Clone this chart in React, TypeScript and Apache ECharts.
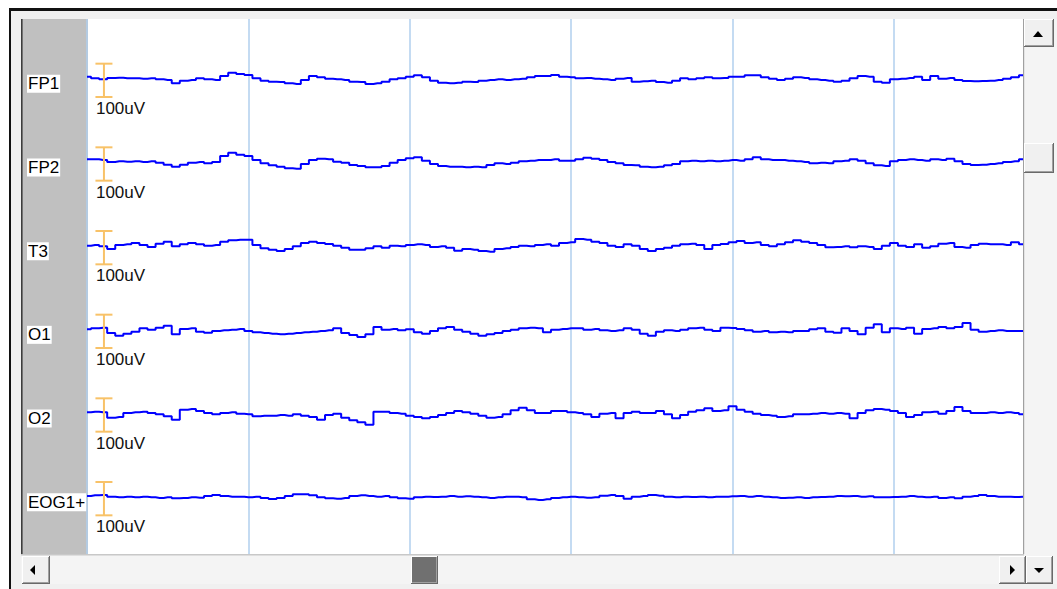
import React, { useEffect, useRef } from "react";
import * as echarts from "echarts";

// ---- data ----
const CHANNELS = ["FP1", "FP2", "T3", "O1", "O2", "EOG1+"];
const SAMPLE_INTERVAL_S = 0.05; // seconds between samples
const WINDOW_S = 5.8; // visible time window
const TIME_GRID_S = 1; // vertical grid every second
const SCALE_BAR_UV = 100;
const SCALE_LABEL = "100uV";

// microvolts, one value per sample
const FP1 = [5,0,-3,1,2,0,0,-1,0,-3, -5,-15,-7,-5,0,-3,-5,7,17,13, 10,0,-7,-10,-11,-15,-17,-5,7,3, -1,-3,-5,-10,-11,-17,-15,-10,-3,0, 5,9,3,-7,-13,-15,-13,-10,-11,-7, -5,-3,-5,-3,-1,3,7,7,10,5, 3,0,1,-1,-3,-5,-1,1,-10,-9, -7,-11,-13,-7,0,-3,0,3,0,1, 5,5,9,9,3,-1,-5,-1,3,1, -3,-5,-7,-10,-7,0,7,5,-10,-13, -3,-1,1,5,-5,7,-1,1,-5,-8, -9,-8,-7,-5,-1,3,9];
const FP2 = [8,8,6,0,2,1,2,0,2,-2, -8,-14,-8,-2,0,-4,0,18,28,22, 18,6,-4,-10,-14,-19,-20,-6,6,10, 8,1,-2,-9,-12,-16,-16,-12,-2,6, 11,14,4,-6,-12,-14,-14,-16,-14,-16, -9,-4,-6,-2,2,4,6,6,8,4, 4,8,13,10,6,0,-4,-9,-10,-14, -16,-14,-10,-6,2,4,2,4,2,4, 6,4,8,14,8,6,6,4,2,0, -4,-2,-4,2,4,8,4,-4,-10,-12, 2,6,8,6,4,8,6,10,2,-6, -9,-8,-6,-4,0,2,8];
const T3 = [0,2,-2,-10,2,4,8,2,-4,6, 12,-2,4,8,4,0,2,12,16,18, 18,2,-8,-12,-16,-10,-2,8,12,8, 5,0,-6,-12,-12,-8,-2,-6,0,-2, 2,4,2,-4,-2,-6,-15,-10,-12,-16, -18,-10,-8,-4,0,-2,2,4,0,8, 10,20,18,12,8,0,-4,4,0,-10, -16,-10,-6,0,4,6,2,-10,2,5, 10,14,8,10,2,-2,4,10,16,12, 8,2,-5,-4,-2,-5,-2,-4,-10,0, 8,0,-4,4,-6,-2,6,8,-4,-6, 2,6,4,4,2,10,4];
const O1 = [0,3,5,-11,-19,-13,-7,3,-1,5, 11,-15,1,3,-7,-10,-5,-3,-1,1, -5,-9,-11,-13,-15,-13,-11,-9,-7,-5, -3,3,-11,-17,-23,-15,7,-1,1,-3, 0,-9,-13,-5,3,7,-1,-7,-13,-19, -15,-11,-5,-1,3,5,3,-9,-1,1, 3,3,-1,1,-3,-5,-3,3,-1,-13, -19,-7,-3,-5,-1,3,5,-1,-5,5, 4,1,-3,-7,-5,-9,-7,-9,-5,-5, 0,3,-7,-10,3,-5,-15,5,15,-9, 3,1,5,-13,1,3,7,3,7,19, -1,-7,-5,-3,-5,-5,-5];
const O2 = [2,4,2,-14,-12,0,2,4,0,-4, -10,-20,10,12,6,0,-4,0,2,-2, -4,-10,-8,-8,-6,-8,-4,-8,-12,-20, -6,-2,-14,-22,-28,-35,4,4,0,-2, -8,-12,-16,-12,-6,0,6,2,-2,-8, -14,-12,-4,8,16,8,0,0,6,6, 2,0,-4,-12,-2,0,-16,0,4,0, 0,6,-4,-16,-6,4,8,14,6,8, 20,10,4,-2,-6,-8,-12,-10,-4,-4, -2,0,-2,0,-2,-16,0,8,12,10, 6,0,-12,-6,2,4,-2,6,18,6, 0,0,2,0,2,0,-4];
const EOG1 = [2,4,5,0,-2,0,-2,0,-2,-4, -2,-5,-4,-2,-3,2,5,2,0,0, -2,0,-4,-7,-4,2,7,7,4,-2, -5,-6,-4,2,4,2,0,2,-2,-5, -6,-2,0,-1,0,2,0,1,0,-2, -4,-2,0,0,-2,-8,-10,-8,-4,-2, 0,-2,-3,-2,3,5,2,-6,0,2, 5,3,0,-2,0,-1,0,-2,0,0, 1,2,0,2,0,-2,-4,-3,-2,-4, -2,-1,0,2,1,2,0,1,-2,-2, -1,0,2,0,-2,0,-4,-2,-5,0, 2,5,2,0,0,-1,0];
const TRACES = [FP1, FP2, T3, O1, O2, EOG1];

// ---- montage layout (uV axis) ----
const Y_MAX_UV = 1605;
const FIRST_BASE_UV = 1427;
const CHANNEL_SPACING_UV = 251;
const SCALE_BAR_T = 0.105;
const baseline = (i: number) => FIRST_BASE_UV - CHANNEL_SPACING_UV * i;

const FONT = '"Liberation Sans", Arial, sans-serif';

function button(x: number, y: number, w: number, h: number, face = "#f0f0f0") {
  return [
    { type: "rect", z: 10, shape: { x, y, width: w, height: h }, style: { fill: "#696969" } },
    { type: "rect", z: 10, shape: { x, y, width: w - 1, height: h - 1 }, style: { fill: "#ffffff" } },
    { type: "rect", z: 10, shape: { x: x + 1, y: y + 1, width: w - 2, height: h - 2 }, style: { fill: "#a0a0a0" } },
    { type: "rect", z: 10, shape: { x: x + 1, y: y + 1, width: w - 3, height: h - 3 }, style: { fill: face } },
  ];
}

function tri(points: number[][]) {
  return { type: "polygon", z: 11, shape: { points }, style: { fill: "#000" } };
}

export default function App() {
  const ref = useRef<HTMLDivElement>(null);

  useEffect(() => {
    if (!ref.current) return;
    const chart = echarts.init(ref.current, undefined, { renderer: "svg" });

    const lineSeries = TRACES.map((arr, ci) => ({
      type: "line",
      name: CHANNELS[ci],
      data: arr.map((v, k) => [k * SAMPLE_INTERVAL_S, baseline(ci) + v]),
      showSymbol: false,
      symbol: "none",
      step: "middle",
      silent: true,
      z: 4,
      lineStyle: { color: "#0000ff", width: 2 },
    }));

    const decor = {
      type: "custom",
      clip: false,
      silent: true,
      z: 20,
      data: CHANNELS.map((name, i) => [SCALE_BAR_T, baseline(i), i]),
      renderItem: (params: any, api: any) => {
        const t = api.value(0);
        const b = api.value(1);
        const i = api.value(2);
        const mid = api.coord([t, b]);
        const top = api.coord([t, b + SCALE_BAR_UV * 0.44]);
        const bot = api.coord([t, b - SCALE_BAR_UV * 0.56]);
        const stroke = { stroke: "#f8c268", lineWidth: 2 };
        const cs = params.coordSys;
        return {
          type: "group",
          children: [
            { type: "line", shape: { x1: mid[0], y1: top[1], x2: mid[0], y2: bot[1] }, style: stroke },
            { type: "line", shape: { x1: mid[0] - 8.5, y1: top[1], x2: mid[0] + 8.5, y2: top[1] }, style: stroke },
            { type: "line", shape: { x1: mid[0] - 8.5, y1: bot[1], x2: mid[0] + 8.5, y2: bot[1] }, style: stroke },
            {
              type: "text",
              style: {
                text: SCALE_LABEL,
                x: mid[0] - 8,
                y: mid[1] + 30,
                verticalAlign: "middle",
                align: "left",
                font: `17px ${FONT}`,
                fill: "#111",
              },
            },
            {
              type: "text",
              style: {
                text: CHANNELS[i],
                x: cs.x - 60,
                y: mid[1] + 5.5,
                verticalAlign: "middle",
                align: "left",
                font: `17px ${FONT}`,
                fill: "#000",
                backgroundColor: "#ffffff",
                padding: [1, 1, 0, 1],
              },
            },
          ],
        };
      },
    };

    const graphic: any[] = [
      { type: "rect", z: 0, shape: { x: 9, y: 8, width: 1048, height: 581 }, style: { fill: "#111" } },
      { type: "rect", z: 0, shape: { x: 11, y: 11, width: 1046, height: 578 }, style: { fill: "#f0f0f0" } },
      { type: "rect", z: 0, shape: { x: 88, y: 19, width: 935, height: 535 }, style: { fill: "#ffffff" } },
      { type: "rect", z: 1, shape: { x: 21, y: 19, width: 67, height: 535 }, style: { fill: "#c0c0c0" } },
      { type: "rect", z: 1, shape: { x: 21, y: 19, width: 1.6, height: 536 }, style: { fill: "#3c3c3c" } },
      // vertical scrollbar track
      { type: "rect", z: 10, shape: { x: 1023, y: 19, width: 34, height: 570 }, style: { fill: "#f4f4f4" } },
      { type: "rect", z: 10, shape: { x: 1023, y: 19, width: 1.2, height: 536 }, style: { fill: "#a0a0a0" } },
      // horizontal scrollbar track
      { type: "rect", z: 10, shape: { x: 21, y: 554, width: 1036, height: 30 }, style: { fill: "#f4f4f4" } },
      { type: "rect", z: 10, shape: { x: 21, y: 554, width: 1003, height: 1.5 }, style: { fill: "#c8c8c8" } },
      { type: "rect", z: 10, shape: { x: 11, y: 584, width: 1046, height: 5 }, style: { fill: "#f0f0f0" } },
      ...button(1024, 19, 30, 28),
      tri([[1033, 37], [1043, 37], [1038, 31]]),
      ...button(1024, 143, 30, 30),
      ...button(22, 556, 28, 28),
      tri([[35, 565], [35, 575], [30, 570]]),
      ...button(411, 556, 27, 28, "#707070"),
      ...button(999, 556, 27, 28),
      tri([[1010, 565], [1010, 575], [1015, 570]]),
      ...button(1026, 556, 27, 28),
      tri([[1034, 568], [1044, 568], [1039, 573]]),
    ];

    chart.setOption({
      animation: false,
      backgroundColor: "#ffffff",
      grid: { left: 87, top: 19, width: 936, height: 535, containLabel: false },
      xAxis: {
        type: "value",
        min: 0,
        max: WINDOW_S,
        interval: TIME_GRID_S,
        z: 3,
        axisLine: { show: false },
        axisTick: { show: false },
        axisLabel: { show: false },
        splitLine: { show: true, showMaxLine: false, lineStyle: { color: "#b0cfee", width: 1.5 } },
      },
      yAxis: {
        type: "value",
        min: 0,
        max: Y_MAX_UV,
        show: false,
        splitLine: { show: false },
      },
      graphic,
      series: [...lineSeries, decor],
    } as any);

    return () => chart.dispose();
  }, []);

  return (
    <div
      ref={ref}
      style={{ position: "fixed", left: 0, top: 0, width: 1057, height: 589 }}
    />
  );
}
